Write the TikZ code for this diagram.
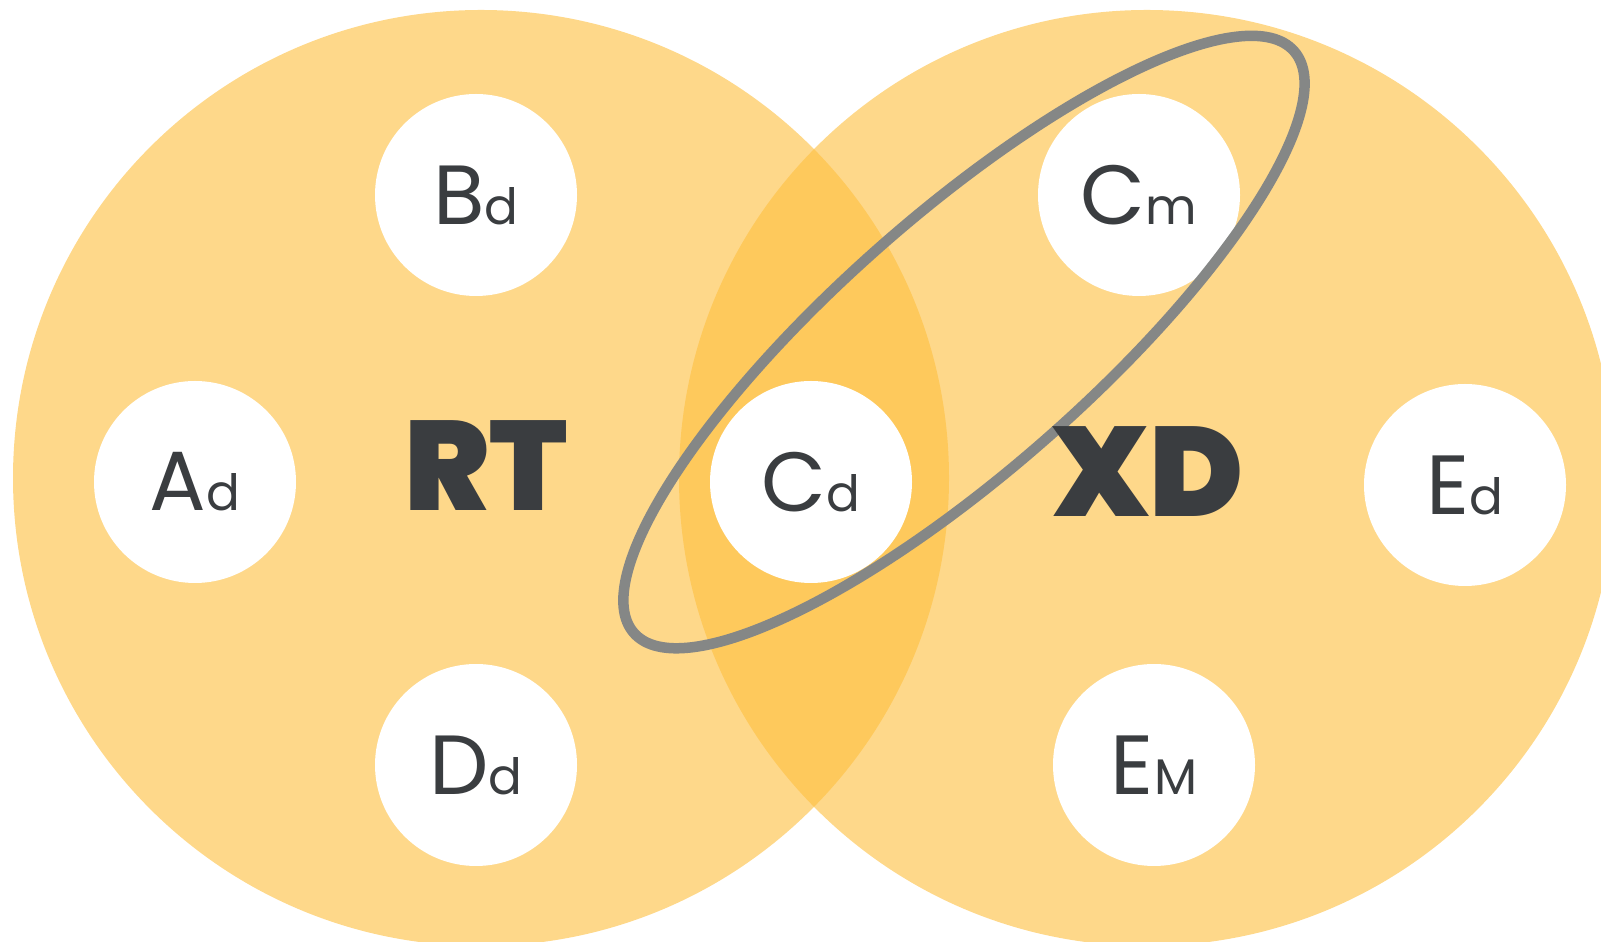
\documentclass[tikz,border=0pt]{standalone}
\usepackage{fontspec}
\setmainfont{Poppins}
\newfontfamily\heavyfont{Poppins Black}
\usetikzlibrary{positioning}
\definecolor{setY}{RGB}{254,216,138}
\definecolor{lensY}{RGB}{254,201,92}
\definecolor{inkD}{RGB}{58,61,64}
\definecolor{ringG}{RGB}{133,135,134}
\newcommand{\elt}[2]{{\fontsize{84}{84}\selectfont #1}{\fontsize{50}{50}\selectfont #2}}

\begin{document}
\begin{tikzpicture}[x=1pt, y=1pt,
  elem/.style={circle, fill=white, minimum size=202pt, inner sep=0pt, text=inkD},
  tag/.style={text=inkD, inner sep=0pt, font=\heavyfont\fontsize{127}{127}\selectfont}]
\useasboundingbox (0,0) rectangle (1601,942);
\clip (0,0) rectangle (1601,942);
% the two sets
\coordinate (L) at (481,464);
\coordinate (R) at (1147,464);
\fill[setY] (L) circle (468);
\fill[setY] (R) circle (468);
% overlap of the sets
\begin{scope}
  \clip (L) circle (468);
  \fill[lensY] (R) circle (468);
\end{scope}
% elements
\node[elem] (bd) at (476,747) {\elt{B}{d}};
\node[elem] (ad) at (195,460) {\elt{A}{d}};
\node[elem] (dd) at (476,177) {\elt{D}{d}};
\node[elem] (cd) at (811,460) {\elt{C}{d}};
\node[elem] (cm) at (1139,747) {\elt{C}{m}};
\node[elem] (ed) at (1465,457) {\elt{E}{d}};
\node[elem] (em) at (1154,177) {\elt{E}{M}};
% grouping ring
\coordinate (O) at (964,600);
\draw[ringG, line width=10.5pt, rotate around={41.4:(O)}] (O) ellipse [x radius=440, y radius=127];
% set names
\node[tag] (rt) at (486,476) {RT};
\node[tag] (xd) at (1148,470) {XD};
\end{tikzpicture}
\end{document}
